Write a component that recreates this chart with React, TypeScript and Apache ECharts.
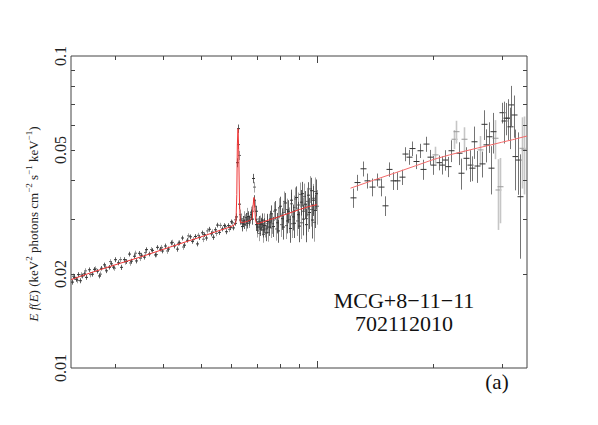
import React, { useEffect, useRef } from 'react';
import * as echarts from 'echarts';

// ---------- data ----------
// XIS spectrum, detector group 1 (keV, E f(E), 1-sigma error)
const xisEnergy = [
  2.32, 2.35, 2.38, 2.41, 2.44, 2.47, 2.50, 2.53, 2.57, 2.61, 2.65, 2.69, 2.73, 2.77, 2.81, 2.85, 2.89, 2.93, 2.97,
  3.01, 3.06, 3.11, 3.16, 3.21, 3.26, 3.31, 3.36, 3.41, 3.46, 3.51, 3.56, 3.62, 3.68, 3.74, 3.80, 3.86, 3.92, 3.98,
  4.05, 4.12, 4.19, 4.26, 4.33, 4.40, 4.47, 4.54, 4.61, 4.68, 4.75, 4.82, 4.89, 4.96, 5.03, 5.10,
  5.17, 5.24, 5.31, 5.38, 5.45, 5.52, 5.59, 5.66, 5.73, 5.80, 5.87, 5.94, 6.00, 6.06, 6.12, 6.17,
  6.21, 6.25, 6.29, 6.33, 6.38, 6.43, 6.48, 6.53, 6.58, 6.63, 6.68, 6.73, 6.78, 6.83, 6.88, 6.93, 6.97,
  7.01, 7.06, 7.11, 7.16, 7.21, 7.26, 7.31, 7.37, 7.43, 7.49, 7.55,
  7.62, 7.70, 7.78, 7.86, 7.94, 8.02, 8.10, 8.18, 8.26, 8.34, 8.42, 8.50, 8.58, 8.66, 8.74,
  8.82, 8.90, 8.98, 9.06, 9.14, 9.22, 9.30, 9.38, 9.46, 9.54, 9.62, 9.70, 9.78, 9.86, 9.94,
];
const xisFlux = [
  0.01885, 0.01953, 0.01924, 0.01992, 0.01904, 0.01973, 0.02003, 0.01952, 0.02065, 0.01998, 0.02071, 0.02043, 0.01973, 0.02088, 0.02141, 0.02049, 0.02103, 0.02157, 0.02105,
  0.02224, 0.02174, 0.02102, 0.02225, 0.02195, 0.02318, 0.02200, 0.02281, 0.02204, 0.02331, 0.02299, 0.02266, 0.02396, 0.02320, 0.02382, 0.02303, 0.02436, 0.02404, 0.02371,
  0.02460, 0.02405, 0.02518, 0.02462, 0.02404, 0.02519, 0.02610, 0.02475, 0.02567, 0.02634, 0.02547, 0.02640, 0.02499, 0.02618, 0.02712, 0.02674,
  0.02610, 0.02784, 0.02692, 0.02625, 0.02774, 0.02871, 0.02721, 0.02790, 0.02860, 0.02734, 0.02860, 0.02817, 0.02942, 0.02812, 0.02909, 0.03050,
  0.0455, 0.0585, 0.0335, 0.0298, 0.0284, 0.0296, 0.0289, 0.0303, 0.0291, 0.0306, 0.0297, 0.0310, 0.0300, 0.0405, 0.0345, 0.0318, 0.0288,
  0.0283, 0.0294, 0.0279, 0.0289, 0.0298, 0.0277, 0.0286, 0.0271, 0.0295, 0.0283, 0.0300,
  0.0312, 0.0284, 0.0321, 0.0292, 0.0275, 0.0330, 0.0301, 0.0283, 0.0338, 0.0296, 0.0318, 0.0280, 0.0345, 0.0305, 0.0291,
  0.0352, 0.0310, 0.0285, 0.0340, 0.0362, 0.0300, 0.0335, 0.0288, 0.0358, 0.0315, 0.0370, 0.0298, 0.0345, 0.0320, 0.0362,
];
const xisErr = [
  0.00035, 0.00035, 0.00035, 0.00035, 0.00035, 0.00035, 0.00035, 0.00035, 0.00035, 0.00035, 0.00035, 0.00035, 0.00035, 0.00035, 0.00035, 0.00035, 0.00035, 0.00035, 0.00035,
  0.0004, 0.0004, 0.0004, 0.0004, 0.0004, 0.0004, 0.0004, 0.0004, 0.0004, 0.0004, 0.0004, 0.0004, 0.0004, 0.0004, 0.0004, 0.0004, 0.0004, 0.0004, 0.0004,
  0.00045, 0.00045, 0.00045, 0.00045, 0.00045, 0.00045, 0.00045, 0.00045, 0.00045, 0.00045, 0.00045, 0.00045, 0.00045, 0.00045, 0.00045, 0.00045,
  0.0005, 0.0005, 0.0005, 0.0005, 0.0005, 0.0005, 0.0005, 0.0005, 0.0005, 0.0005, 0.0005, 0.0005, 0.0005, 0.0005, 0.0005, 0.0008,
  0.0015, 0.0018, 0.0012, 0.0010, 0.0010, 0.0011, 0.0010, 0.0011, 0.0011, 0.0012, 0.0011, 0.0012, 0.0012, 0.0014, 0.0013, 0.0012, 0.0012,
  0.0013, 0.0013, 0.0014, 0.0014, 0.0015, 0.0015, 0.0016, 0.0016, 0.0017, 0.0018, 0.0019,
  0.0020, 0.0021, 0.0022, 0.0022, 0.0023, 0.0024, 0.0024, 0.0025, 0.0026, 0.0026, 0.0027, 0.0028, 0.0028, 0.0029, 0.0030,
  0.0030, 0.0031, 0.0032, 0.0032, 0.0033, 0.0034, 0.0034, 0.0035, 0.0036, 0.0036, 0.0037, 0.0038, 0.0038, 0.0039, 0.0040,
];

// XIS spectrum, detector group 2
const xis2Energy = [
  2.335, 2.395, 2.455, 2.515, 2.59, 2.67, 2.75, 2.83, 2.91, 2.99, 3.085, 3.185, 3.285, 3.385, 3.485, 3.585, 3.71, 3.83, 3.95,
  4.085, 4.225, 4.365, 4.505, 4.645, 4.785, 4.925, 5.065, 5.205, 5.345, 5.485, 5.625, 5.765, 5.905, 6.03, 6.145,
  6.23, 6.27, 6.31, 6.355, 6.405, 6.455, 6.505, 6.555, 6.605, 6.655, 6.705, 6.755, 6.805, 6.855, 6.905, 6.95, 6.99,
  7.035, 7.085, 7.135, 7.185, 7.235, 7.285, 7.34, 7.40, 7.46, 7.52, 7.585,
  7.66, 7.74, 7.82, 7.90, 7.98, 8.06, 8.14, 8.22, 8.30, 8.38, 8.46, 8.54, 8.62, 8.70, 8.78,
  8.86, 8.94, 9.02, 9.10, 9.18, 9.26, 9.34, 9.42, 9.50, 9.58, 9.66, 9.74, 9.82, 9.90, 9.97,
];
const xis2Flux = [
  0.01968, 0.01909, 0.01988, 0.02048, 0.01992, 0.02078, 0.01999, 0.02106, 0.02193, 0.02089, 0.02225, 0.02188, 0.02171, 0.02333, 0.02247, 0.02343, 0.02397, 0.02310, 0.02435,
  0.02372, 0.02527, 0.02511, 0.02442, 0.02652, 0.02580, 0.02662, 0.02587, 0.02750, 0.02727, 0.02700, 0.02865, 0.02839, 0.02782, 0.02920, 0.02985,
  0.0520, 0.0480, 0.0310, 0.0301, 0.0290, 0.0305, 0.0298, 0.0287, 0.0312, 0.0294, 0.0304, 0.0315, 0.0318, 0.0380, 0.0330, 0.0300, 0.0276,
  0.0288, 0.0270, 0.0292, 0.0282, 0.0268, 0.0296, 0.0279, 0.0290, 0.0272, 0.0293, 0.0281,
  0.0290, 0.0318, 0.0279, 0.0305, 0.0326, 0.0288, 0.0315, 0.0342, 0.0286, 0.0322, 0.0299, 0.0336, 0.0290, 0.0327, 0.0348,
  0.0296, 0.0333, 0.0360, 0.0292, 0.0318, 0.0355, 0.0301, 0.0342, 0.0310, 0.0375, 0.0322, 0.0350, 0.0293, 0.0368, 0.0330,
];
const xis2Err = [
  0.0004, 0.0004, 0.0004, 0.0004, 0.0004, 0.0004, 0.0004, 0.0004, 0.0004, 0.0004, 0.00045, 0.00045, 0.00045, 0.00045, 0.00045, 0.00045, 0.00045, 0.00045, 0.00045,
  0.0005, 0.0005, 0.0005, 0.0005, 0.0005, 0.0005, 0.0005, 0.00055, 0.00055, 0.00055, 0.00055, 0.00055, 0.00055, 0.00055, 0.00055, 0.0007,
  0.0017, 0.0016, 0.0012, 0.0012, 0.0012, 0.0013, 0.0013, 0.0013, 0.0014, 0.0013, 0.0014, 0.0014, 0.0014, 0.0015, 0.0015, 0.0014, 0.0014,
  0.0015, 0.0015, 0.0016, 0.0016, 0.0016, 0.0017, 0.0017, 0.0018, 0.0018, 0.0019, 0.0020,
  0.0021, 0.0022, 0.0023, 0.0023, 0.0024, 0.0025, 0.0025, 0.0026, 0.0027, 0.0027, 0.0028, 0.0029, 0.0029, 0.0030, 0.0031,
  0.0031, 0.0032, 0.0033, 0.0033, 0.0034, 0.0035, 0.0035, 0.0036, 0.0037, 0.0037, 0.0038, 0.0039, 0.0039, 0.0040, 0.0042,
];

// PIN spectrum, darker group
const pinEnergy = [
  12.37, 12.72, 13.13, 13.50, 13.88, 14.28, 14.62, 15.00, 15.39, 15.76, 16.14, 16.54, 16.90, 17.24, 17.62, 18.05, 18.41, 18.78,
  19.16, 19.54, 19.94, 20.62, 21.04, 21.42, 21.76, 22.20, 23.23, 23.61, 24.32, 24.80, 25.21, 25.51, 25.92, 26.72, 26.97,
  27.41, 27.79, 28.18, 28.52, 30.10, 30.38, 30.75, 31.12, 31.49, 31.81, 32.25, 32.58, 33.03, 33.43,
];
const pinFlux = [
  0.0351, 0.0393, 0.0435, 0.0398, 0.0380, 0.0401, 0.0380, 0.0331, 0.0433, 0.0398, 0.0398, 0.0409, 0.0485, 0.0474, 0.0505, 0.0459, 0.0497, 0.0433,
  0.0522, 0.0474, 0.0447, 0.0455, 0.0447, 0.0464, 0.0442, 0.0497, 0.0488, 0.0421, 0.0470, 0.0447, 0.0437, 0.0531, 0.0444, 0.0451, 0.0604,
  0.0519, 0.0551, 0.0437, 0.0572, 0.0658, 0.0619, 0.0632, 0.0632, 0.0593, 0.0697, 0.0647, 0.0476, 0.0464, 0.0354,
];
const pinErr = [
  0.0025, 0.0023, 0.0024, 0.0022, 0.0025, 0.0019, 0.0025, 0.0024, 0.0023, 0.0026, 0.0026, 0.0023, 0.0025, 0.0026, 0.0027, 0.0025, 0.0026, 0.0032,
  0.0029, 0.0026, 0.0031, 0.0025, 0.0030, 0.0035, 0.0033, 0.0040, 0.0041, 0.0048, 0.0040, 0.0052, 0.0040, 0.0063, 0.0052, 0.0043, 0.0066,
  0.0063, 0.0062, 0.0077, 0.0085, 0.0050, 0.0095, 0.0075, 0.0095, 0.0090, 0.0105, 0.0100, 0.0105, 0.0105, 0.0130,
];

// PIN spectrum, lighter group
const pin2Energy = [20.22, 22.55, 22.91, 24.03, 26.33, 28.91, 29.31, 29.67, 33.83, 34.24];
const pin2Flux = [0.0482, 0.0541, 0.0572, 0.0541, 0.0500, 0.0545, 0.0372, 0.0381, 0.0506, 0.0500];
const pin2Err = [0.0030, 0.0038, 0.0048, 0.0050, 0.0054, 0.0078, 0.0095, 0.0090, 0.0130, 0.0140];

// best-fit model
const modelXisEnergy = [
  2.31, 2.6, 3.0, 3.5, 4.0, 4.5, 5.0, 5.5, 5.9, 6.1, 6.17, 6.2, 6.22, 6.245, 6.27, 6.3, 6.33,
  6.45, 6.6, 6.75, 6.80, 6.83, 6.865, 6.90, 6.93, 6.97, 7.03, 7.5, 8.0, 8.5, 9.0, 9.5, 10.0,
];
const modelXisFlux = [
  0.0192, 0.0202, 0.0214, 0.0227, 0.0240, 0.0252, 0.0263, 0.0274, 0.0282, 0.0287, 0.0295, 0.036, 0.052, 0.0585, 0.050, 0.034, 0.0293,
  0.0293, 0.0295, 0.0299, 0.0303, 0.0330, 0.0352, 0.0325, 0.0298, 0.0291, 0.0290, 0.0298, 0.0306, 0.0314, 0.0322, 0.0329, 0.0334,
];
const modelPinEnergy = [12.2, 14, 16, 18, 20, 22, 24, 26, 28, 30, 32, 34.9];
const modelPinFlux = [0.0377, 0.0400, 0.0423, 0.0445, 0.0466, 0.0482, 0.0495, 0.0507, 0.0518, 0.0529, 0.0539, 0.0554];

// axes
const xMin = 2.31;
const xMax = 34.9;
const yMin = 0.01;
const yMax = 0.1;
const xMinorTicks = [3, 4, 5, 6, 7, 8, 9, 20, 30];
const xMajorTicks = [10];
const yMinorTicks = [0.02, 0.03, 0.04, 0.05, 0.06, 0.07, 0.08, 0.09];
const yTickLabels = [0.01, 0.02, 0.05, 0.1];

const objectName = 'MCG+8\u221211\u221211';
const obsId = '702112010';
const panelLabel = '(a)';

const SERIF = 'Liberation Serif, Times New Roman, serif';

function errorBars(color: string, capColor: string, lw: number, cap: number) {
  return (params: any, api: any) => {
    const x = api.value(0);
    const y = api.value(1);
    const e = api.value(2);
    const p = api.coord([x, y]);
    const t = api.coord([x, y + e]);
    const b = api.coord([x, Math.max(y - e, 0.0005)]);
    const px = Math.round(p[0]) + 0.5;
    return {
      type: 'group',
      children: [
        { type: 'line', shape: { x1: px, y1: t[1], x2: px, y2: b[1] }, style: { stroke: color, lineWidth: lw } },
        { type: 'line', shape: { x1: px - cap, y1: p[1], x2: px + cap, y2: p[1] }, style: { stroke: capColor, lineWidth: 1 } },
      ],
    };
  };
}

function frameTicks(params: any, api: any) {
  const cs = params.coordSys;
  const left = cs.x;
  const right = cs.x + cs.width;
  const top = cs.y;
  const bottom = cs.y + cs.height;
  const st = { stroke: '#444', lineWidth: 1 };
  const children: any[] = [];
  const vline = (px: number, len: number) => {
    const x = Math.round(px) + 0.5;
    children.push({ type: 'line', shape: { x1: x, y1: bottom, x2: x, y2: bottom - len }, style: st });
    children.push({ type: 'line', shape: { x1: x, y1: top, x2: x, y2: top + len }, style: st });
  };
  const hline = (py: number, len: number) => {
    const y = Math.round(py) + 0.5;
    children.push({ type: 'line', shape: { x1: left, y1: y, x2: left + len, y2: y }, style: st });
    children.push({ type: 'line', shape: { x1: right, y1: y, x2: right - len, y2: y }, style: st });
  };
  xMinorTicks.forEach((v) => vline(api.coord([v, 0.03])[0], 4));
  xMajorTicks.forEach((v) => vline(api.coord([v, 0.03])[0], 7));
  yMinorTicks.forEach((v) => hline(api.coord([5, v])[1], 4));
  yTickLabels.forEach((v) => {
    const py = api.coord([5, v])[1];
    children.push({
      type: 'text',
      x: left - 11,
      y: py,
      rotation: Math.PI / 2,
      style: {
        text: String(v),
        fontFamily: SERIF,
        fontSize: 16,
        fill: '#222',
        align: 'center',
        verticalAlign: 'middle',
      },
    });
  });
  return { type: 'group', children };
}

export default function App() {
  const ref = useRef<HTMLDivElement>(null);
  useEffect(() => {
    if (!ref.current) return;
    const chart = echarts.init(ref.current, undefined, { renderer: 'svg' });
    const toTriples = (es: number[], fs: number[], errs: number[]) => es.map((e, i) => [e, fs[i], errs[i]]);
    const hiddenAxis = {
      axisLine: { show: false },
      axisTick: { show: false },
      axisLabel: { show: false },
      splitLine: { show: false },
    };
    chart.setOption({
      animation: false,
      backgroundColor: '#fff',
      grid: {
        left: 71,
        right: 71,
        top: 56,
        bottom: 57,
        show: true,
        borderColor: '#444',
        borderWidth: 1,
        backgroundColor: 'transparent',
      },
      xAxis: { type: 'log', logBase: 10, min: xMin, max: xMax, ...hiddenAxis },
      yAxis: { type: 'log', logBase: 10, min: yMin, max: yMax, ...hiddenAxis },
      series: [
        {
          type: 'custom',
          name: 'PIN light',
          silent: true,
          clip: true,
          encode: { x: 0, y: 1 },
          data: toTriples(pin2Energy, pin2Flux, pin2Err),
          renderItem: errorBars('#c6c6c6', '#999', 1.6, 3),
        },
        {
          type: 'custom',
          name: 'PIN',
          silent: true,
          clip: true,
          encode: { x: 0, y: 1 },
          data: toTriples(pinEnergy, pinFlux, pinErr),
          renderItem: errorBars('#747474', '#333', 1, 3),
        },
        {
          type: 'custom',
          name: 'XIS 2',
          silent: true,
          clip: true,
          encode: { x: 0, y: 1 },
          data: toTriples(xis2Energy, xis2Flux, xis2Err),
          renderItem: errorBars('#8a8a8a', '#666', 0.8, 1.5),
        },
        {
          type: 'custom',
          name: 'XIS',
          silent: true,
          clip: true,
          encode: { x: 0, y: 1 },
          data: toTriples(xisEnergy, xisFlux, xisErr),
          renderItem: errorBars('#3a3a3a', '#333', 0.8, 1.5),
        },
        {
          type: 'line',
          name: 'model XIS',
          silent: true,
          showSymbol: false,
          data: modelXisEnergy.map((e, i) => [e, modelXisFlux[i]]),
          lineStyle: { color: '#ee3434', width: 1 },
          itemStyle: { color: '#ee3434' },
          z: 5,
        },
        {
          type: 'line',
          name: 'model PIN',
          silent: true,
          showSymbol: false,
          data: modelPinEnergy.map((e, i) => [e, modelPinFlux[i]]),
          lineStyle: { color: '#f36a6a', width: 1 },
          itemStyle: { color: '#f36a6a' },
          z: 5,
        },
        {
          type: 'custom',
          name: 'frame',
          silent: true,
          clip: false,
          encode: { x: 0, y: 1 },
          data: [[5, 0.03]],
          renderItem: frameTicks,
          z: 10,
        },
      ],
      graphic: [
        {
          type: 'text',
          x: 33,
          y: 224,
          rotation: Math.PI / 2,
          style: {
            text: '{i|E f}{n|(}{i|E}{n|) (keV}{s|2}{n| photons cm}{s|\u22122}{n| s}{s|\u22121}{n| keV}{s|\u22121}{n|)}',
            align: 'center',
            verticalAlign: 'middle',
            fontFamily: SERIF,
            fontSize: 13,
            fill: '#222',
            rich: {
              i: { fontFamily: SERIF, fontSize: 13, fontStyle: 'italic', fill: '#222', lineHeight: 17 },
              n: { fontFamily: SERIF, fontSize: 13, fill: '#222', lineHeight: 17 },
              s: { fontFamily: SERIF, fontSize: 9, fill: '#222', lineHeight: 9, verticalAlign: 'top' },
            },
          },
        },
        {
          type: 'text',
          x: 404,
          y: 300,
          style: { text: objectName, fontFamily: SERIF, fontSize: 22, fill: '#111', align: 'center', verticalAlign: 'middle' },
        },
        {
          type: 'text',
          x: 404,
          y: 323,
          style: { text: obsId, fontFamily: SERIF, fontSize: 22, fill: '#111', align: 'center', verticalAlign: 'middle' },
        },
        {
          type: 'text',
          x: 497,
          y: 382,
          style: { text: panelLabel, fontFamily: SERIF, fontSize: 21, fill: '#111', align: 'center', verticalAlign: 'middle' },
        },
      ],
    });
    return () => chart.dispose();
  }, []);
  return (
    <div
      ref={ref}
      style={{ position: 'fixed', left: 0, top: 0, width: 598, height: 425, background: '#fff' }}
    />
  );
}
